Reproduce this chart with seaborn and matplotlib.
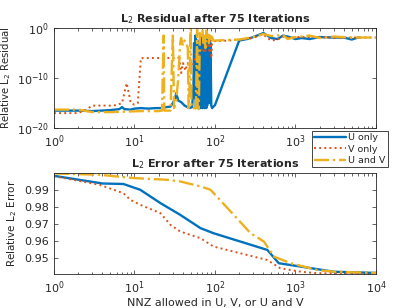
import numpy as np
import pandas as pd
import seaborn as sns
import matplotlib.pyplot as plt
import matplotlib.ticker as mticker

# ---- data: top panel (x = NNZ, values are log10 of residual) ----
res_u_x = [1, 2, 3, 5, 6.5, 7, 7.5, 9, 10, 12, 15, 18, 22, 25, 28, 30, 32, 33, 35, 38, 42, 48, 52,
           54, 55, 56, 57, 58, 59, 60, 61, 62, 63, 64, 65, 66, 67, 68, 69, 70, 71, 72, 73, 74, 75,
           76, 77, 78, 79, 80, 81, 82, 84, 86, 88, 90, 92, 100, 200, 250, 300, 400, 500, 600, 700,
           800, 1000, 1200, 1500, 2000, 3000, 4000, 5000, 6000, 6300]
res_u_log = [-16.5, -16.5, -16.6, -16.4, -16.2, -15.8, -16.2, -16.3, -16.1, -16.0, -16.1, -16.0, -16.0,
             -15.8, -15.7, -15.0, -14.0, -13.0, -14.5, -14.8, -15.5, -16.0, -15.8,
             -12, -3, -14, -1.5, -16, -5, -14, -2.5, -16, -4, -15, -3, -16, -2, -15, -2, -16, -2.5,
             -14, -2, -16, -2, -15, -2, -16, -3, -15.5, -2, -14, -2.5, -15, -3, -15.5, -16, -15.4,
             -2.5, -2.2, -1.8, -1.0, -2.0, -2.2, -1.5, -1.7, -2.2, -2.0, -2.2, -1.8, -1.9, -1.9,
             -2.3, -1.9, -1.9]

res_v_x = [1, 2, 2.5, 3, 4, 5, 6, 7, 7.5, 8, 8.5, 9, 10, 11, 12, 15, 20, 25, 30, 35, 36, 38, 40, 43,
           46, 48, 52, 55, 58, 62, 65, 70, 75, 80, 85, 88, 90, 92, 95, 100, 150, 200, 300, 350, 400,
           450, 500, 600, 700, 800, 1000, 2000, 3000, 5000, 10000]
res_v_log = [-17, -17, -16.3, -15.5, -15.5, -15.5, -15.4, -15, -13, -11, -13, -15, -15.3, -15, -6, -6,
             -6, -6, -6, -6, -5.5, -9, -7, -8.5, -7, -8, -7.5, -7, -5, -6, -5, -4, -5, -3, -4.5, -2.5,
             -6, -3, -3, -2.6, -2.5, -2.3, -2.0, -1.5, -1.3, -2.0, -2.5, -2.3, -1.7, -2.0, -1.8, -1.8,
             -2.0, -1.9, -1.9]

res_uv_x = [1, 2, 3, 5, 8, 12, 20, 22, 23, 23.5, 28, 30, 31, 33, 35, 37, 38, 40, 42, 44, 46, 47, 48,
            50, 51, 55, 58, 60, 61, 63, 65, 67, 70, 72, 74, 76, 78, 80, 82, 84, 86, 88, 90, 95, 100,
            200, 300, 400, 500, 700, 800, 1000, 1500, 2000, 3000, 5000, 10000]
res_uv_log = [-16.3, -16.3, -16.8, -16.8, -16.7, -16.6, -16.6, -16.5, -1.5, -16.5, -16.5, -1.5, -16,
              -14.5, -10, -3, -2, -3.5, -2.5, -3, -4, -16, -14, 0, -16, -16, -16, -0.3, -16, -16.2,
              -1, -2, -0.5, -3, -1, -4, -0.5, -2, -1, -3, -1.5, -2.5, -1.2, -2.5, -2.5, -2.3, -1.8,
              -1.2, -1.6, -1.4, -2.2, -1.8, -1.5, -2.0, -1.7, -1.9, -1.9]

# ---- data: bottom panel (relative L2 error) ----
err_u_x = [1, 4, 7.3, 11.8, 21, 37, 66, 96, 447, 620, 1170, 3000, 10000]
err_u_y = [0.9982, 0.9937, 0.9934, 0.9900, 0.9822, 0.9753, 0.9675, 0.9645, 0.9547, 0.9469, 0.9449,
           0.9419, 0.9412]

err_v_x = [1, 3.7, 7.3, 8.9, 11.8, 21, 28, 37, 66, 96, 171, 447, 650, 1170, 1870, 10000]
err_v_y = [0.9980, 0.9929, 0.9880, 0.9841, 0.9812, 0.9763, 0.9694, 0.9655, 0.9616, 0.9567, 0.9537,
           0.9488, 0.9439, 0.9419, 0.9410, 0.9408]

err_uv_x = [1, 3.7, 9.7, 25, 37, 45, 66, 88, 171, 277, 406, 540, 870, 1870, 3000, 10000]
err_uv_y = [0.9996, 0.9988, 0.9969, 0.9959, 0.9949, 0.9939, 0.9920, 0.9900, 0.9753, 0.9645, 0.9596,
            0.9508, 0.9469, 0.9429, 0.9419, 0.9412]

names = ['U only', 'V only', 'U and V']
colors = ['#0072BD', '#D95319', '#EDB120']
top_xticks = [1, 10, 100, 1000, 10000]
top_xticklabels = ['$10^{0}$', '$10^{1}$', '$10^{2}$', '$10^{3}$', '']  # 10^4 sits under the legend

sns.set_style('ticks', {'xtick.direction': 'in', 'ytick.direction': 'in'})
plt.rcParams['font.family'] = ['DejaVu Sans']
plt.rcParams['xtick.top'] = True
plt.rcParams['ytick.right'] = True
plt.rcParams['axes.edgecolor'] = '#262626'
plt.rcParams['axes.linewidth'] = 0.6

fig = plt.figure(figsize=(4.15, 3.08), dpi=100)
ax1 = fig.add_axes([0.130, 0.584, 0.776, 0.325])
ax2 = fig.add_axes([0.130, 0.110, 0.776, 0.328])

top_sets = [(res_u_x, res_u_log), (res_v_x, res_v_log), (res_uv_x, res_uv_log)]
bot_sets = [(err_u_x, err_u_y), (err_v_x, err_v_y), (err_uv_x, err_uv_y)]
styles = [dict(linestyle='-', linewidth=1.7),
          dict(linestyle=':', linewidth=1.4),
          dict(linestyle='-.', linewidth=1.7)]

for (xs, ls), name, c, st in zip(top_sets, names, colors, styles):
    df = pd.DataFrame({'x': xs, 'y': np.power(10.0, ls)})
    sns.lineplot(data=df, x='x', y='y', ax=ax1, color=c, estimator=None, sort=False,
                 label=name, legend=False, **st)

for (xs, ys), name, c, st in zip(bot_sets, names, colors, styles):
    df = pd.DataFrame({'x': xs, 'y': ys})
    sns.lineplot(data=df, x='x', y='y', ax=ax2, color=c, estimator=None, sort=False,
                 label=name, legend=False, **st)

for ax in (ax1, ax2):
    ax.set_xscale('log')
    ax.set_xlim(1, 1e4)
    ax.tick_params(labelsize=8, colors='#262626', length=3, width=0.5)
    ax.tick_params(which='minor', length=1.8, width=0.5)
    ax.xaxis.set_major_locator(mticker.LogLocator(base=10, numticks=10))
    ax.xaxis.set_minor_locator(mticker.LogLocator(base=10, subs=np.arange(2, 10), numticks=10))

ax1.set_xticks(top_xticks)
ax1.set_xticklabels(top_xticklabels)
ax1.set_yscale('log')
ax1.set_ylim(1e-20, 1)
ax1.set_yticks([1e-20, 1e-10, 1])
ax1.yaxis.set_minor_locator(mticker.NullLocator())
ax1.set_xlabel('')
ax1.set_ylabel('Relative L$_2$ Residual', fontsize=7.3, color='#262626', labelpad=3)
ax1.set_title('L$_2$ Residual after 75 Iterations', fontsize=8, fontweight='bold', pad=4)

ax2.set_ylim(0.9405, 0.9998)
ax2.set_yticks([0.95, 0.96, 0.97, 0.98, 0.99])
ax2.set_xlabel('NNZ allowed in U, V, or U and V', fontsize=8, color='#262626', labelpad=2)
ax2.set_ylabel('Relative L$_2$ Error', fontsize=7.5, color='#262626')
ax2.set_title('L$_2$ Error after 75 Iterations', fontsize=8, fontweight='bold', pad=4)

handles, labels = ax2.get_legend_handles_labels()
leg = fig.legend(handles, labels, loc='upper left', bbox_to_anchor=(312 / 415, 1 - 131 / 308),
                 fontsize=6.8, frameon=True, fancybox=False, framealpha=1, handlelength=3.4,
                 handletextpad=0.2, borderpad=0.25, labelspacing=0.25, borderaxespad=0)
leg.get_frame().set_edgecolor('#262626')
leg.get_frame().set_linewidth(0.6)
leg.set_zorder(10)

fig.savefig('out.png', dpi=100)
